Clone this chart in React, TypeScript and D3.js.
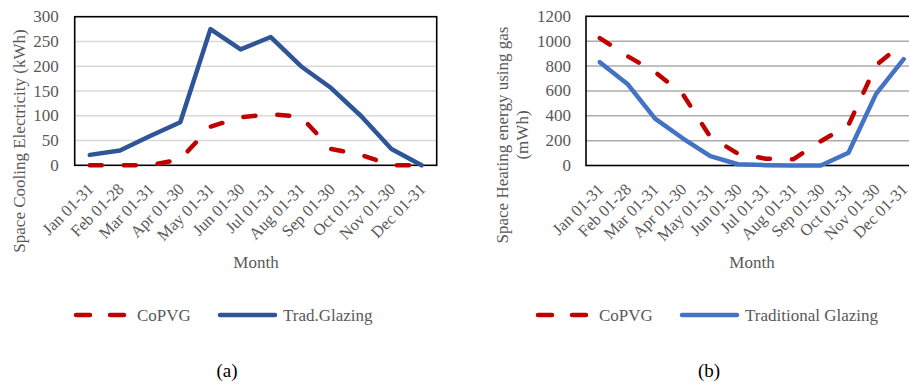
import React from "react";
import * as d3 from "d3";

const months = [
  "Jan 01-31", "Feb 01-28", "Mar 01-31", "Apr 01-30", "May 01-31", "Jun 01-30",
  "Jul 01-31", "Aug 01-31", "Sep 01-30", "Oct 01-31", "Nov 01-30", "Dec 01-31",
];

// Panel (a): space cooling electricity, kWh
const coolingCoPVG = [0, 0, 0, 12, 78, 97, 103, 98, 33, 21, 0, 0];
const coolingTrad = [21, 30, 59, 87, 275, 234, 259, 200, 156, 99, 33, 0];
const coolingTicks = [0, 50, 100, 150, 200, 250, 300];

// Panel (b): space heating energy using gas, mWh
const heatingCoPVG = [1025, 880, 752, 575, 230, 95, 55, 50, 195, 325, 805, 990];
const heatingTrad = [831, 656, 377, 219, 76, 10, 3, 0, 0, 103, 576, 855];
const heatingTicks = [0, 200, 400, 600, 800, 1000, 1200];

const FONT = "'Liberation Serif', 'Times New Roman', serif";
const GREY = "#595959";
const RED = "#C00000";
const DASH = "12 22";

type PanelProps = {
  x0: number; x1: number; y0: number; y1: number;
  max: number; ticks: number[];
  dashed: number[]; solid: number[];
  solidColor: string; gridColor: string;
  tickGap: number;
};

function Panel({ x0, x1, y0, y1, max, ticks, dashed, solid, solidColor, gridColor, tickGap }: PanelProps) {
  const x = d3.scaleBand<string>().domain(months).range([x0, x1]).padding(0);
  const y = d3.scaleLinear().domain([0, max]).range([y1, y0]);
  const cx = (m: string) => (x(m) as number) + x.bandwidth() / 2;
  const line = d3.line<number>().x((_, i) => cx(months[i])).y((v) => y(v));
  return (
    <g>
      {ticks.filter((t) => t > 0 && t < max).map((t) => (
        <line key={t} x1={x0} x2={x1} y1={y(t)} y2={y(t)} stroke={gridColor} strokeWidth={1.5} />
      ))}
      <rect x={x0} y={y0} width={x1 - x0} height={y1 - y0} fill="none" stroke="#000" strokeWidth={1.6} />
      <path d={line(solid) as string} fill="none" stroke={solidColor} strokeWidth={4.5}
        strokeLinejoin="round" strokeLinecap="round" />
      <path d={line(dashed) as string} fill="none" stroke={RED} strokeWidth={4.5}
        strokeDasharray={DASH} strokeLinecap="round" strokeLinejoin="round" />
      {ticks.map((t) => (
        <text key={t} x={x0 - tickGap} y={y(t)} textAnchor="end" dominantBaseline="central"
          fontFamily={FONT} fontSize={17} fill={GREY}>{t}</text>
      ))}
      {months.map((m) => (
        <text key={m} transform={`translate(${cx(m) + 1},${y1 + 21}) rotate(-45)`} textAnchor="end"
          dominantBaseline="central" fontFamily={FONT} fontSize={16.5} fill={GREY}>{m}</text>
      ))}
    </g>
  );
}

function Legend({ x, solidLabel, solidColor }: { x: number; solidLabel: string; solidColor: string }) {
  const ly = 315;
  return (
    <g fontFamily={FONT} fontSize={17} fill={GREY}>
      <line x1={x + 2} x2={x + 50} y1={ly} y2={ly} stroke={RED} strokeWidth={4.5}
        strokeDasharray="14 20" strokeLinecap="round" />
      <text x={x + 63} y={ly + 6}>CoPVG</text>
      <line x1={x + 146} x2={x + 201} y1={ly} y2={ly} stroke={solidColor} strokeWidth={4.5} strokeLinecap="round" />
      <text x={x + 209} y={ly + 6}>{solidLabel}</text>
    </g>
  );
}

export default function App() {
  return (
    <svg width={909} height={386} style={{ position: "absolute", left: 0, top: 0, background: "#fff" }}>
      <rect width={909} height={386} fill="#fff" />
      <Panel x0={74.7} x1={436.7} y0={16.7} y1={165.3} max={300} ticks={coolingTicks}
        dashed={coolingCoPVG} solid={coolingTrad} solidColor="#2F5597" gridColor="#D9D9D9" tickGap={16} />
      <Panel x0={586} x1={917.5} y0={16.3} y1={165.5} max={1200} ticks={heatingTicks}
        dashed={heatingCoPVG} solid={heatingTrad} solidColor="#4472C4" gridColor="#ABABAB" tickGap={15} />

      <g fontFamily={FONT} fontSize={17} fill={GREY} textAnchor="middle">
        <text transform="translate(19,141) rotate(-90)" dominantBaseline="central">Space Cooling Electricity (kWh)</text>
        <text transform="translate(502,135) rotate(-90)" dominantBaseline="central">Space Heating energy using gas</text>
        <text transform="translate(522,135) rotate(-90)" dominantBaseline="central">(mWh)</text>
        <text x={256} y={268}>Month</text>
        <text x={752} y={268}>Month</text>
      </g>

      <Legend x={74} solidLabel="Trad.Glazing" solidColor="#2F5597" />
      <Legend x={536} solidLabel="Traditional Glazing" solidColor="#4472C4" />

      <g fontFamily={FONT} fontSize={19} fill="#000" textAnchor="middle">
        <text x={227} y={377}>(a)</text>
        <text x={709} y={377}>(b)</text>
      </g>
    </svg>
  );
}
